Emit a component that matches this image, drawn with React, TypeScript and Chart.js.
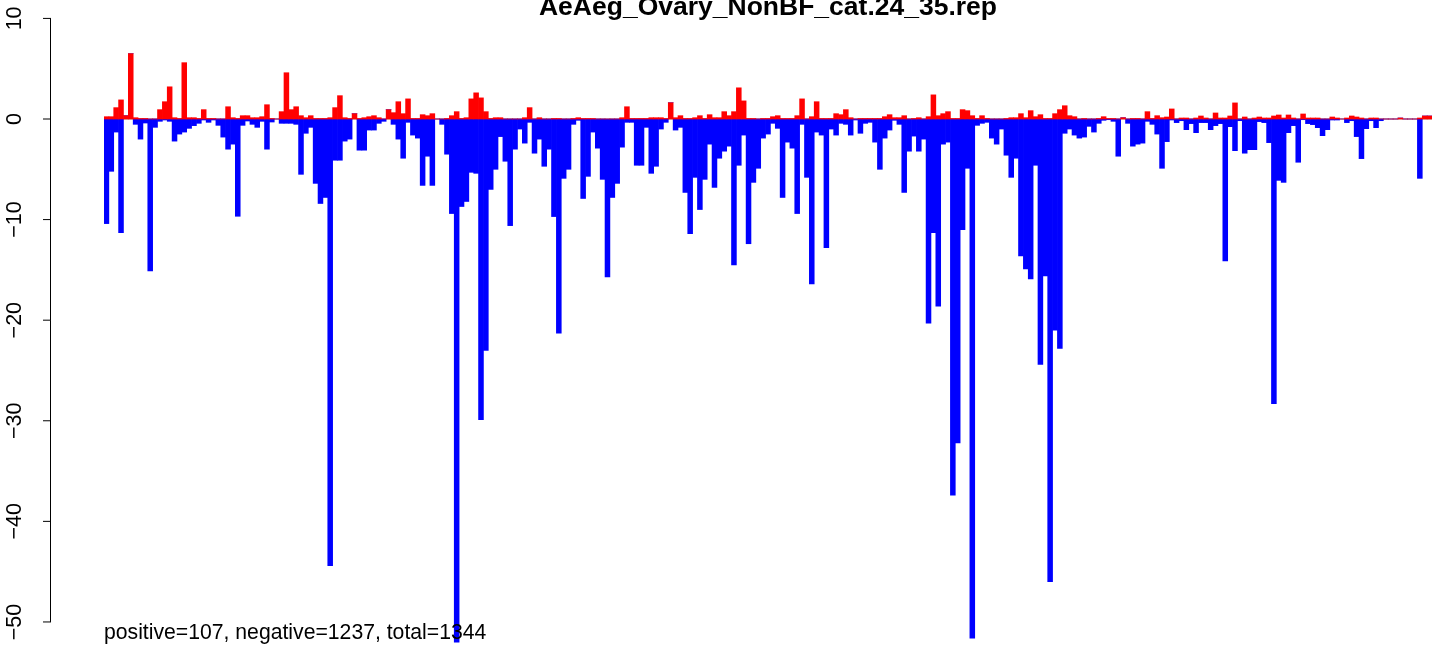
import React, { useEffect, useRef } from "react";
import { Chart, registerables } from "chart.js";

Chart.register(...registerables);

const TITLE = "AeAeg_Ovary_NonBF_cat.24_35.rep";
const FOOTER = "positive=107, negative=1237, total=1344";

// red bars (positive part of each bin)
const positive: number[] = [
  0.23, 0.23, 1.13, 1.9, 0.33, 6.5, 0.13, 0.05, 0.05, 0,
  0, 0.93, 1.72, 3.2, 0.13, 0.05, 5.6, 0.13, 0.13, 0.05,
  0.93, 0.05, 0.05, 0, 0, 1.22, 0.13, 0.05, 0.33, 0.33,
  0.13, 0.13, 0.23, 1.42, 0.05, 0, 0.73, 4.6, 0.93, 1.22,
  0.33, 0.13, 0.33, 0.05, 0.05, 0.05, 0.13, 1.13, 2.32, 0.13,
  0.05, 0.53, 0.05, 0.13, 0.23, 0.33, 0.13, 0, 0.93, 0.63,
  1.72, 0.53, 2.0, 0.05, 0.05, 0.43, 0.33, 0.53, 0, 0,
  0.05, 0.33, 0.73, 0.05, 0.13, 2.0, 2.6, 2.1, 0.73, 0.05,
  0.13, 0.13, 0, 0, 0, 0, 0.13, 1.13, 0, 0.13,
  0, 0, 0.05, 0.05, 0, 0, 0.05, 0.13, 0.05, 0.05,
  0.05, 0, 0, 0, 0, 0, 0.13, 1.22, 0.05, 0.05,
  0.05, 0.05, 0.13, 0.13, 0.13, 0.05, 1.62, 0.13, 0.33, 0.05,
  0.05, 0.13, 0.33, 0.05, 0.43, 0.13, 0.13, 0.73, 0.33, 0.73,
  3.1, 1.8, 0.05, 0.05, 0, 0.05, 0.05, 0.23, 0.33, 0.05,
  0.05, 0.05, 0.33, 2.0, 0, 0.23, 1.72, 0.05, 0.05, 0.05,
  0.53, 0.43, 0.93, 0.13, 0, 0.05, 0.05, 0.05, 0.05, 0.05,
  0.23, 0.43, 0.13, 0.13, 0.33, 0, 0.05, 0.13, 0, 0.23,
  2.4, 0.33, 0.53, 0.73, 0.05, 0.05, 0.93, 0.83, 0.33, 0.05,
  0.33, 0.05, 0, 0, 0, 0.05, 0.13, 0.13, 0.53, 0.13,
  0.83, 0.23, 0.43, 0.05, 0.05, 0.53, 0.93, 1.32, 0.33, 0.23,
  0, 0.05, 0, 0, 0.05, 0.23, 0.05, 0.05, 0, 0.13,
  0, 0.05, 0.05, 0, 0.73, 0.05, 0.33, 0.13, 0.2, 1.0,
  0, 0.1, 0.1, 0, 0.1, 0.3, 0.1, 0, 0.6, 0.1,
  0.1, 0.3, 1.6, 0, 0.2, 0, 0.1, 0.2, 0.1, 0.1,
  0.3, 0.4, 0.1, 0.4, 0.1, 0, 0.5, 0.1, 0.1, 0.1,
  0, 0, 0.2, 0.1, 0, 0.1, 0.3, 0.2, 0.1, 0,
  0.1, 0.1, 0, 0, 0, 0, 0.1, 0, 0, 0,
  0.1, 0.3, 0.3,
];

// blue bars (negative part of each bin)
const negative: number[] = [
  -10.4, -5.2, -1.3, -11.3, 0, 0, -0.53, -2.0, -0.4, -15.1,
  -0.83, -0.23, -0.1, -0.23, -2.2, -1.5, -1.3, -0.93, -0.66, -0.43,
  -0.1, -0.33, -0.1, -0.63, -1.8, -3.0, -2.5, -9.67, -0.63, -0.2,
  -0.53, -0.83, -0.23, -3.0, -0.3, 0, -0.43, -0.43, -0.43, -0.53,
  -5.5, -1.42, -0.83, -6.4, -8.4, -7.8, -44.4, -4.1, -4.1, -2.2,
  -2.0, 0, -3.1, -3.1, -1.1, -1.1, -0.43, -0.23, 0, -0.53,
  -2.0, -3.9, -0.33, -1.6, -1.9, -6.6, -3.7, -6.6, 0, -0.53,
  -3.5, -9.4, -52.0, -8.7, -8.2, -5.3, -5.4, -29.9, -23.0, -7.0,
  -5.0, -1.75, -4.2, -10.6, -3.0, -1.0, -2.4, -0.33, -3.4, -2.0,
  -4.7, -3.0, -9.7, -21.3, -5.9, -5.0, -0.53, -0.13, -7.9, -5.7,
  -1.3, -2.9, -6.0, -15.7, -7.8, -6.4, -2.8, -0.33, -0.33, -4.6,
  -4.6, -0.83, -5.4, -4.7, -1.0, -0.33, 0, -1.1, -0.83, -7.3,
  -11.4, -5.8, -9.0, -6.0, -2.5, -6.8, -3.9, -3.2, -2.7, -14.5,
  -4.6, -1.6, -12.4, -6.3, -4.9, -1.9, -1.5, -0.43, -0.93, -7.8,
  -2.3, -2.9, -9.4, -0.53, -5.8, -16.4, -1.3, -1.6, -12.8, -1.0,
  -1.6, -0.43, -0.53, -1.6, -0.1, -1.42, -0.43, -0.33, -2.3, -5.0,
  -1.9, -1.1, -0.13, -0.53, -7.3, -3.2, -1.7, -3.2, -2.0, -20.3,
  -11.3, -18.6, -2.5, -2.3, -37.4, -32.2, -11.0, -4.9, -51.6, -0.63,
  -0.43, -0.33, -1.9, -2.5, -1.0, -3.6, -5.8, -3.9, -13.6, -14.9,
  -15.9, -4.6, -24.4, -15.6, -46.0, -21.0, -22.8, -1.42, -1.0, -1.6,
  -1.9, -1.8, -0.73, -1.3, -0.43, -0.13, -0.07, -0.23, -3.7, 0,
  -0.43, -2.7, -2.5, -2.4, -0.23, -0.53, -1.5, -4.9, -2.25, -0.1,
  -0.36, -0.17, -1.06, -0.46, -1.36, -0.36, -0.36, -1.06, -0.66, -0.46,
  -14.1, -0.76, -3.15, -0.17, -3.4, -3.05, -3.05, -0.26, -0.36, -2.35,
  -28.3, -6.1, -6.3, -1.36, -0.66, -4.3, -0.07, -0.46, -0.56, -0.86,
  -1.66, -1.06, -0.1, -0.1, 0, -0.36, -0.17, -1.75, -3.94, -0.96,
  -0.17, -0.86, -0.17, 0, 0, 0, 0, 0, 0, 0,
  -5.9, 0, 0,
];

const bins: string[] = positive.map((_, i) => String(i + 1));

const yTicks: number[] = [10, 0, -10, -20, -30, -40, -50];
const yTickLabels: string[] = ["10", "0", "\u221210", "\u221220", "\u221230", "\u221240", "\u221250"];

const Y_MIN = -52.29;
const Y_MAX = 11.83;

const FONT = '"Liberation Sans", Arial, Helvetica, sans-serif';

const rPlot = {
  id: "rPlot",
  beforeDatasetsDraw(chart: any) {
    const { ctx, chartArea, scales } = chart;
    const y0 = scales.y.getPixelForValue(0);
    ctx.save();
    ctx.strokeStyle = "#BEBEBE";
    ctx.lineWidth = 1.5;
    ctx.beginPath();
    ctx.moveTo(chartArea.left, y0);
    ctx.lineTo(chartArea.right, y0);
    ctx.stroke();
    ctx.restore();
  },
  afterDraw(chart: any) {
    const { ctx, chartArea, scales } = chart;
    const y = scales.y;
    ctx.save();
    // y axis line + ticks
    ctx.strokeStyle = "#000";
    ctx.lineWidth = 1;
    const top = y.getPixelForValue(yTicks[0]);
    const bot = y.getPixelForValue(yTicks[yTicks.length - 1]);
    ctx.beginPath();
    ctx.moveTo(50.5, top);
    ctx.lineTo(50.5, bot);
    yTicks.forEach((v) => {
      const p = y.getPixelForValue(v);
      ctx.moveTo(43, p);
      ctx.lineTo(51, p);
    });
    ctx.stroke();
    // tick labels (rotated)
    ctx.fillStyle = "#000";
    ctx.font = `21.5px ${FONT}`;
    ctx.textAlign = "center";
    ctx.textBaseline = "alphabetic";
    yTicks.forEach((v, i) => {
      const p = y.getPixelForValue(v);
      ctx.save();
      ctx.translate(21, p);
      ctx.rotate(-Math.PI / 2);
      ctx.fillText(yTickLabels[i], 0, 0);
      ctx.restore();
    });
    // footer text
    ctx.font = `21.2px ${FONT}`;
    ctx.textAlign = "left";
    ctx.fillText(FOOTER, chartArea.left, 639);
    // title
    ctx.font = `bold 26.5px ${FONT}`;
    ctx.textAlign = "center";
    ctx.fillText(TITLE, (chartArea.left + chartArea.right) / 2, 15);
    ctx.restore();
  },
};

export default function App() {
  const canvasRef = useRef<HTMLCanvasElement | null>(null);

  useEffect(() => {
    if (!canvasRef.current) return;
    const chart = new Chart(canvasRef.current, {
      type: "bar",
      data: {
        labels: bins,
        datasets: [
          {
            label: "positive",
            data: positive,
            backgroundColor: "#FF0000",
            borderWidth: 0,
            barPercentage: 1,
            categoryPercentage: 1,
          },
          {
            label: "negative",
            data: negative,
            backgroundColor: "#0000FF",
            borderWidth: 0,
            barPercentage: 1,
            categoryPercentage: 1,
          },
        ],
      },
      options: {
        animation: false,
        responsive: true,
        maintainAspectRatio: false,
        devicePixelRatio: 1,
        events: [],
        layout: { padding: { left: 104, right: 1, top: 0, bottom: 0 } },
        plugins: {
          legend: { display: false },
          tooltip: { enabled: false },
          title: { display: false },
        },
        scales: {
          x: { type: "category", display: false, stacked: true, offset: true, grid: { display: false } },
          y: { type: "linear", display: false, stacked: true, min: Y_MIN, max: Y_MAX },
        },
      },
      plugins: [rPlot],
    } as any);
    return () => chart.destroy();
  }, []);

  return (
    <div style={{ position: "fixed", left: 0, top: 0, width: 1433, height: 645, background: "#fff" }}>
      <canvas ref={canvasRef} />
    </div>
  );
}
